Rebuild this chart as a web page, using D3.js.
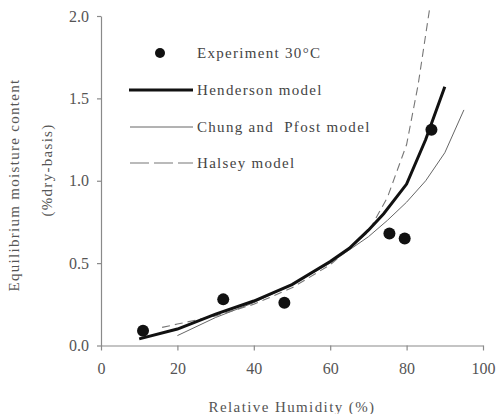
<!DOCTYPE html>
<html>
<head>
<meta charset="utf-8">
<script src="https://cdn.jsdelivr.net/npm/d3@7"></script>
<style>
  html, body { margin: 0; padding: 0; background: #fff; }
  svg { display: block; }
</style>
</head>
<body>
<svg id="chart" width="498" height="414"></svg>
<script>
// ---- data ----
const experimentRH  = [11, 32, 48, 75.5, 79.5, 86.5];
const experimentEMC = [0.09, 0.28, 0.26, 0.68, 0.65, 1.31];

const hendersonRH  = [10, 20, 30, 40, 50, 60, 65, 70, 74, 80, 85, 90];
const hendersonEMC = [0.04, 0.10, 0.19, 0.27, 0.37, 0.51, 0.59, 0.70, 0.80, 0.98, 1.25, 1.57];

const chungRH  = [20, 30, 40, 50, 60, 70, 75, 80, 85, 90, 95];
const chungEMC = [0.06, 0.17, 0.26, 0.37, 0.50, 0.66, 0.76, 0.87, 1.00, 1.17, 1.43];

const halseyRH  = [16, 20, 30, 40, 50, 60, 70, 75, 80, 83, 86];
const halseyEMC = [0.11, 0.13, 0.18, 0.25, 0.35, 0.49, 0.69, 0.90, 1.22, 1.58, 2.04];

const xTicks = [0, 20, 40, 60, 80, 100];
const yTicks = [0, 0.5, 1.0, 1.5, 2.0];

const legendLabels = ["Experiment 30\u00B0C", "Henderson model", "Chung and  Pfost model", "Halsey model"];
const xTitle = "Relative Humidity (%)";
const yTitle1 = "Equilibrium moisture content";
const yTitle2 = "(%dry-basis)";

// ---- drawing ----
const FONT = "'Liberation Serif'";
const svg = d3.select("#chart");
const x = d3.scaleLinear().domain([0, 100]).range([101, 483]);
const y = d3.scaleLinear().domain([0, 2]).range([345.5, 16]);

const axisColor = "#8a8a8a";
const textColor = "#555";
const fontSize = 15;

const zip = (a, b) => a.map((v, i) => [v, b[i]]);
const line = d3.line().x(d => x(d[0])).y(d => y(d[1]));

// axes
const gx = svg.append("g")
  .attr("transform", `translate(0,${y(0)})`)
  .call(d3.axisBottom(x).tickValues(xTicks).tickSize(5).tickSizeOuter(0).tickPadding(12).tickFormat(d3.format("d")));
const gy = svg.append("g")
  .attr("transform", `translate(${x(0)},0)`)
  .call(d3.axisLeft(y).tickValues(yTicks).tickSize(4).tickSizeOuter(0).tickPadding(8).tickFormat(d3.format(".1f")));
[gx, gy].forEach(g => {
  g.attr("font-family", null).attr("font-size", null);
  g.selectAll("path, line").attr("stroke", axisColor).attr("stroke-width", 1.2);
  g.selectAll("text").attr("fill", textColor).style("font-size", "16px")
    .style("font-family", FONT);
});

// curves
svg.append("path").datum(zip(chungRH, chungEMC)).attr("d", line)
  .attr("fill", "none").attr("stroke", "#666").attr("stroke-width", 1);
svg.append("path").datum(zip(halseyRH, halseyEMC)).attr("d", line)
  .attr("fill", "none").attr("stroke", "#777").attr("stroke-width", 1.1)
  .attr("stroke-dasharray", "8,5");
svg.append("path").datum(zip(hendersonRH, hendersonEMC)).attr("d", line)
  .attr("fill", "none").attr("stroke", "#111").attr("stroke-width", 3);

// experimental points
svg.append("g").selectAll("circle").data(zip(experimentRH, experimentEMC)).join("circle")
  .attr("cx", d => x(d[0])).attr("cy", d => y(d[1])).attr("r", 6).attr("fill", "#111");

// legend
const lg = svg.append("g");
const rowY = [53, 90, 127, 163];
lg.append("circle").attr("cx", 160).attr("cy", rowY[0]).attr("r", 5).attr("fill", "#111");
lg.append("line").attr("x1", 129).attr("x2", 193).attr("y1", rowY[1]).attr("y2", rowY[1])
  .attr("stroke", "#111").attr("stroke-width", 3);
lg.append("line").attr("x1", 130).attr("x2", 193).attr("y1", rowY[2]).attr("y2", rowY[2])
  .attr("stroke", "#666").attr("stroke-width", 1);
lg.append("line").attr("x1", 130).attr("x2", 193).attr("y1", rowY[3]).attr("y2", rowY[3])
  .attr("stroke", "#777").attr("stroke-width", 1.1).attr("stroke-dasharray", "19,5");
lg.selectAll("text").data(legendLabels).join("text")
  .attr("x", 197).attr("y", (d, i) => rowY[i] + 5)
  .style("font-size", fontSize + "px").style("letter-spacing", "1.3px")
  .attr("fill", "#444").style("white-space", "pre").style("font-family", FONT)
  .text(d => d);

// axis titles
svg.append("text").attr("x", (x(0) + x(100)) / 2).attr("y", 412)
  .attr("text-anchor", "middle").style("font-size", fontSize + "px").style("letter-spacing", "1.4px")
  .attr("fill", textColor).style("font-family", FONT).text(xTitle);
svg.append("text").attr("transform", "translate(19,185) rotate(-90)")
  .attr("text-anchor", "middle").style("font-size", fontSize + "px").style("letter-spacing", "1.3px")
  .attr("fill", textColor).style("font-family", FONT).text(yTitle1);
svg.append("text").attr("transform", "translate(52,170) rotate(-90)")
  .attr("text-anchor", "middle").style("font-size", fontSize + "px").style("letter-spacing", "1.3px")
  .attr("fill", textColor).style("font-family", FONT).text(yTitle2);
</script>
</body>
</html>
